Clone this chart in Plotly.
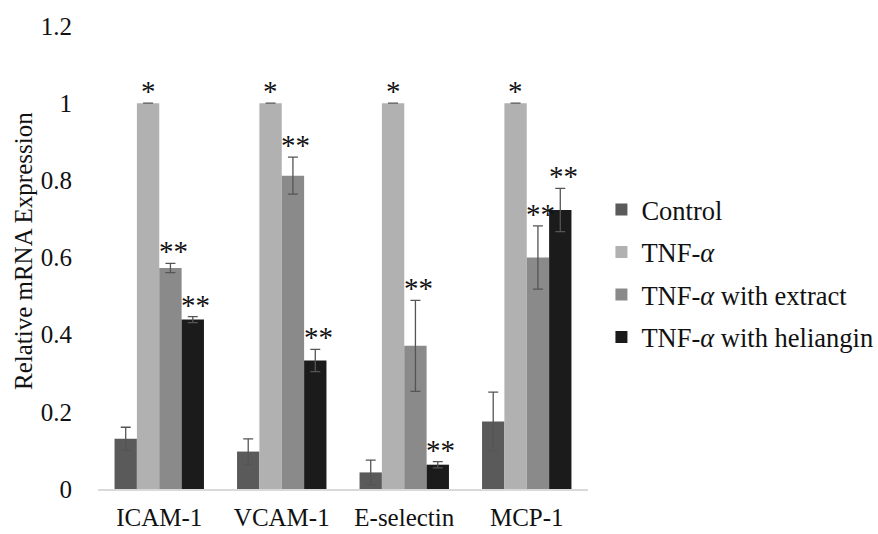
import plotly.graph_objects as go

categories = ["ICAM-1", "VCAM-1", "E-selectin", "MCP-1"]
legend_labels = ["Control", "TNF-<i>\u03b1</i>", "TNF-<i>\u03b1</i> with extract", "TNF-<i>\u03b1</i> with heliangin"]
control = [0.130, 0.097, 0.043, 0.175]
tnf = [1.0, 1.0, 1.0, 1.0]
extract = [0.573, 0.812, 0.371, 0.600]
heliangin = [0.439, 0.333, 0.063, 0.723]
control_err = [0.030, 0.033, 0.032, 0.076]
tnf_err = [0.0, 0.0, 0.0, 0.0]
extract_err = [0.012, 0.048, 0.118, 0.082]
heliangin_err = [0.008, 0.029, 0.008, 0.056]
control_sig = ["", "", "", ""]
tnf_sig = ["*", "*", "*", "*"]
extract_sig = ["**", "**", "**", "**"]
heliangin_sig = ["**", "**", "**", "**"]
y_ticks = [0, 0.2, 0.4, 0.6, 0.8, 1, 1.2]
y_tick_text = ["0", "0.2", "0.4", "0.6", "0.8", "1", "1.2"]

colors = ["#5a5a5a", "#b1b1b1", "#8a8a8a", "#1b1b1b"]
values = [control, tnf, extract, heliangin]
errors = [control_err, tnf_err, extract_err, heliangin_err]
sigs = [control_sig, tnf_sig, extract_sig, heliangin_sig]

FONT = "Liberation Serif"

fig = go.Figure()
for i in range(4):
    fig.add_trace(go.Bar(
        x=categories, y=values[i], name=legend_labels[i],
        marker=dict(color=colors[i], line=dict(width=0)),
        error_y=dict(type="data", array=errors[i], visible=True,
                     color="#555555", thickness=1.3, width=5),
        legendgroup=f"g{i}",
    ))

# significance markers
bar_w = 22.3
offsets = [-1.5 * bar_w, -0.5 * bar_w, 0.5 * bar_w, 1.5 * bar_w]
for i in range(4):
    for j, cat in enumerate(categories):
        s = sigs[i][j]
        if not s:
            continue
        fig.add_annotation(
            x=cat, y=values[i][j] + errors[i][j], xref="x", yref="y",
            text=s, showarrow=False, yanchor="bottom",
            xshift=offsets[i] + (3 if len(s) == 2 else 0), yshift=-6,
            font=dict(family=FONT, size=29, color="#111111"),
        )

fig.add_annotation(
    text="Relative mRNA Expression", textangle=-90,
    xref="paper", yref="paper", x=-0.153, y=0.514,
    xanchor="center", yanchor="middle", showarrow=False,
    font=dict(family=FONT, size=25, color="#111111"),
)

fig.update_layout(
    width=878, height=534,
    margin=dict(l=98, r=290, t=26, b=45, autoexpand=False),
    paper_bgcolor="white", plot_bgcolor="white",
    barmode="group", bargap=0.27, bargroupgap=0,
    font=dict(family=FONT, size=25, color="#111111"),
    showlegend=True,
    legend=dict(xref="container", yref="container", x=0.685, y=0.652,
                xanchor="left", yanchor="top",
                font=dict(family=FONT, size=26.5, color="#111111"),
                traceorder="grouped", tracegroupgap=5,
                bgcolor="rgba(0,0,0,0)", itemwidth=30),
    xaxis=dict(showgrid=False, showline=True, linecolor="#d9d9d9", linewidth=1.5,
               ticks="", automargin=False,
               tickfont=dict(family=FONT, size=25, color="#111111"),
               ticklabelstandoff=5),
    yaxis=dict(range=[0, 1.2], tickvals=y_ticks, ticktext=y_tick_text,
               showgrid=False, showline=False, zeroline=False, ticks="",
               automargin=False,
               tickfont=dict(family=FONT, size=25, color="#111111"),
               ticklabelstandoff=25),
)

fig.write_html("out.html",
               config={"displayModeBar": False},
               post_script="document.body.style.margin='0';document.body.style.padding='0';")
